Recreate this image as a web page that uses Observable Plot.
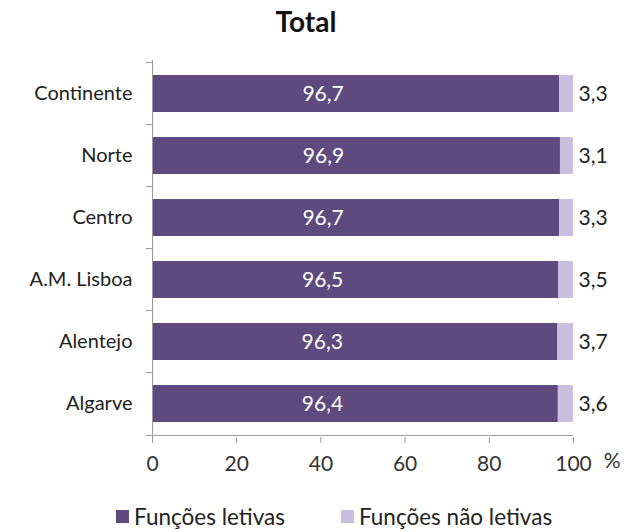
<!DOCTYPE html>
<html><head><meta charset="utf-8">
<script src="https://cdn.jsdelivr.net/npm/d3@7"></script>
<script src="https://cdn.jsdelivr.net/npm/@observablehq/plot@0.6"></script>
<style>
body{margin:0;background:#fff;font-family:Lato,"Open Sans",sans-serif;}
#title{height:40px;line-height:43px;text-align:center;font-weight:bold;font-size:28px;color:#111;width:612px;}
#legend{display:flex;font-size:22.5px;color:#222;height:42px;align-items:center;padding-left:116px;}
.item{display:flex;align-items:center;}
.sw{width:13px;height:13px;display:inline-block;margin-right:5px;}
</style></head>
<body>
<div id="title">Total</div>
<div id="chart"></div>
<div id="legend"></div>
<script>
const regions = ["Continente","Norte","Centro","A.M. Lisboa","Alentejo","Algarve"];
const letivas = [96.7,96.9,96.7,96.5,96.3,96.4];
const naoLetivas = [3.3,3.1,3.3,3.5,3.7,3.6];
const seriesNames = ["Funções letivas","Funções não letivas"];
const colors = ["#5e4a7e","#c8bedd"];
const xTicks = [0,20,40,60,80,100];

const fmt = v => v.toFixed(1).replace(".", ",");
const data = [];
regions.forEach((r,i)=>{
  data.push({region:r, series:seriesNames[0], value:letivas[i]});
  data.push({region:r, series:seriesNames[1], value:naoLetivas[i]});
});
const rows = regions.map((r,i)=>({region:r, a:letivas[i], b:naoLetivas[i]}));

const H = 455, mt = 20, mb = 58;
const step = (H-mt-mb)/regions.length;
const last = regions[regions.length-1];

const chart = Plot.plot({
  width:644, height:H,
  marginLeft:152, marginRight:71, marginTop:mt, marginBottom:mb,
  style:{fontFamily:"Lato, 'Open Sans', sans-serif", fontSize:"20px", color:"#222", background:"#fff"},
  x:{domain:[0,100], ticks:xTicks, label:null},
  y:{domain:regions, paddingInner:0.41, paddingOuter:0.205, label:null},
  color:{domain:seriesNames, range:colors},
  marks:[
    Plot.barX(data, Plot.stackX({y:"region", x:"value", fill:"series", order:seriesNames})),
    Plot.ruleX([0],{stroke:"#999"}),
    Plot.ruleY([last],{y:d=>d, x1:0, x2:100, dy:step/2, stroke:"#999"}),
    Plot.axisX({ticks:xTicks, tickSize:6, tickPadding:13, stroke:"#999", fontSize:21, fill:"#333", tickFormat:d=>String(d)}),
    Plot.axisY({tickSize:0, tickPadding:20, fontSize:20, fill:"#222"}),
    Plot.ruleY(regions,{y:d=>d, x1:-1.5, x2:0, dy:-step/2, stroke:"#999"}),
    Plot.ruleY([last],{y:d=>d, x1:-1.5, x2:0, dy:step/2, stroke:"#999"}),
    Plot.text(rows,{y:"region", x:d=>d.a/2, text:d=>fmt(d.a), fill:"#fff", fontSize:21, dx:-33}),
    Plot.text(rows,{y:"region", x:d=>d.a+d.b, text:d=>fmt(d.b), fill:"#222", fontSize:21, textAnchor:"start", dx:5}),
    Plot.text(["%"],{frameAnchor:"bottom-right", text:d=>d, fontSize:21, fill:"#333", dx:47, dy:30})
  ]
});
document.getElementById("chart").appendChild(chart);

const lg = document.getElementById("legend");
seriesNames.forEach((s,i)=>{
  const it = document.createElement("div"); it.className="item";
  it.style.marginRight = i===0 ? "56px" : "0";
  it.innerHTML = `<span class="sw" style="background:${colors[i]}"></span><span>${s}</span>`;
  lg.appendChild(it);
});
</script>
</body></html>
